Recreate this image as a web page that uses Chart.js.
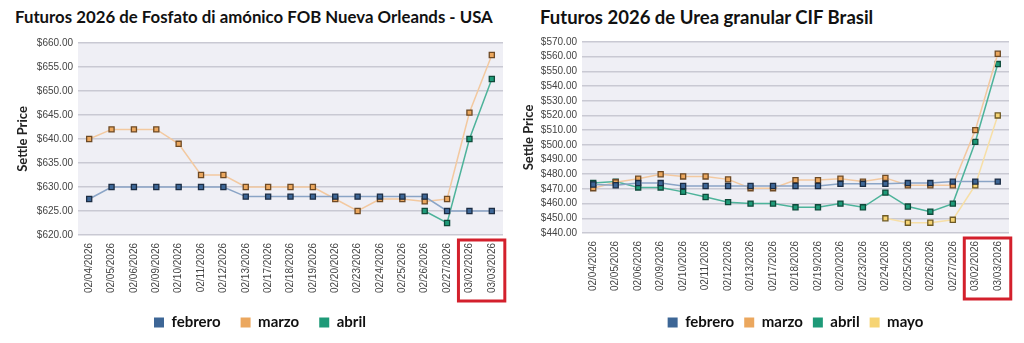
<!DOCTYPE html>
<html>
<head>
<meta charset="utf-8">
<script src="https://cdn.jsdelivr.net/npm/chart.js@4.4.1/dist/chart.umd.min.js"></script>
<style>
  body { margin: 0; background: #fff; width: 1024px; height: 343px; overflow: hidden; position: relative; }
  .title { position: absolute; font-family: Lato, sans-serif; font-weight: bold; color: #111; white-space: nowrap; }
  canvas { position: absolute; top: 0; }
</style>
</head>
<body>
<div class="title" style="left:15px; top:6px; font-size:16.8px">Futuros 2026 de Fosfato di amónico FOB Nueva Orleands - USA</div>
<div class="title" style="left:540px; top:6px; font-size:18.5px">Futuros 2026 de Urea granular CIF Brasil</div>
<canvas id="dap-chart" width="512" height="343" style="left:0"></canvas>
<canvas id="urea-chart" width="512" height="343" style="left:512px"></canvas>
<script>
// trading dates (same for both charts)
var dates = ["02/04/2026", "02/05/2026", "02/06/2026", "02/09/2026", "02/10/2026", "02/11/2026", "02/12/2026",
    "02/13/2026", "02/17/2026", "02/18/2026", "02/19/2026", "02/20/2026", "02/23/2026", "02/24/2026",
    "02/25/2026", "02/26/2026", "02/27/2026", "03/02/2026", "03/03/2026"];

// DAP FOB Nueva Orleans
var dapFebrero = [627.5, 630, 630, 630, 630, 630, 630, 628, 628, 628, 628, 628, 628, 628, 628, 628, 625, 625, 625];
var dapMarzo = [640, 642, 642, 642, 639, 632.5, 632.5, 630, 630, 630, 630, 627.5, 625, 627.5, 627.5, 627, 627.5, 645.5, 657.5];
var dapAbril = [null, null, null, null, null, null, null, null, null, null, null, null, null, null, null, 625, 622.5, 640, 652.5];

// Urea CIF Brasil
var ureaFebrero = [473, 472.5, 474, 474, 472, 472, 472, 472, 472, 472, 472, 473.5, 473.5, 473.5, 474, 474, 475, 475, 475];
var ureaMarzo = [470.5, 474.5, 477, 480, 478.5, 478.5, 476.5, 470.5, 470.5, 476, 476, 477, 475, 477.5, 472.5, 472.5, 472.5, 510, 562];
var ureaAbril = [474, 475, 471, 471, 468, 464.5, 461, 460, 460, 457.5, 457.5, 460, 457.5, 467.5, 458, 454.5, 460, 502, 555];
var ureaMayo = [null, null, null, null, null, null, null, null, null, null, null, null, null, 450, 447, 447, 449, 472.5, 520];

// highlighted categories (red box)
var highlight = ["03/02/2026", "03/03/2026"];

var colors = {
    febrero: { fill: "#3d6696", border: "#1c2d44", line: "#8aa4c6" },
    marzo: { fill: "#eba75e", border: "#6e4a25", line: "#f3c9a0" },
    abril: { fill: "#1e9a78", border: "#0f4a3a", line: "#4db39a" },
    mayo: { fill: "#f6d474", border: "#6e5a25", line: "#f7dfa6" }
};

function series(label, data, c) {
    return {
        label: label,
        data: data,
        borderColor: c.line,
        backgroundColor: c.fill,
        borderWidth: 1.5,
        pointStyle: "rect",
        pointRadius: 3.6,
        pointHoverRadius: 3.6,
        pointBackgroundColor: c.fill,
        pointBorderColor: c.border,
        pointBorderWidth: 1.3,
        tension: 0,
        spanGaps: false
    };
}

var plotBg = {
    id: "plotBg",
    beforeDraw: function (chart) {
        var a = chart.chartArea, ctx = chart.ctx;
        ctx.save();
        ctx.fillStyle = "#efeff5";
        ctx.fillRect(a.left, a.top, a.right - a.left, a.bottom - a.top);
        ctx.restore();
    }
};

var redBox = {
    id: "redBox",
    afterDraw: function (chart) {
        var x = chart.scales.x, ctx = chart.ctx;
        var i0 = dates.indexOf(highlight[0]), i1 = dates.indexOf(highlight[1]);
        var x0 = x.getPixelForValue(i0) - 11, x1 = x.getPixelForValue(i1) + 13;
        ctx.save();
        ctx.strokeStyle = "#d3202c";
        ctx.lineWidth = 3;
        ctx.strokeRect(x0, x.top + 5, x1 - x0, 61);
        ctx.restore();
    }
};

function makeChart(id, datasets, yMin, yMax, step, pad, yWidth, xHeight, legendPad, legendFull) {
    return new Chart(document.getElementById(id), {
        type: "line",
        data: { labels: dates, datasets: datasets },
        plugins: [plotBg, redBox],
        options: {
            responsive: false,
            animation: false,
            layout: { padding: pad },
            plugins: {
                legend: {
                    display: true,
                    position: "bottom",
                    fullSize: legendFull,
                    labels: {
                        boxWidth: 10,
                        boxHeight: 10,
                        padding: legendPad,
                        color: "#111",
                        font: { family: "Lato", weight: "bold", size: 15 },
                        generateLabels: function (chart) {
                            return Chart.defaults.plugins.legend.labels.generateLabels(chart).map(function (l) {
                                var ds = chart.data.datasets[l.datasetIndex];
                                l.fillStyle = ds.backgroundColor;
                                l.strokeStyle = ds.backgroundColor;
                                l.lineWidth = 0;
                                return l;
                            });
                        }
                    }
                },
                tooltip: { enabled: false }
            },
            scales: {
                x: {
                    offset: true,
                    grid: { display: false, drawTicks: false },
                    border: { display: false },
                    ticks: {
                        minRotation: 90,
                        maxRotation: 90,
                        autoSkip: false,
                        padding: 8,
                        color: "#444",
                        font: { family: "Liberation Sans", size: 10 }
                    },
                    afterFit: function (s) { s.height = xHeight; }
                },
                y: {
                    min: yMin,
                    max: yMax,
                    border: { display: false },
                    grid: { color: "#c9c9d3", lineWidth: 1.5, drawTicks: false },
                    title: {
                        display: true,
                        text: "Settle Price",
                        color: "#222",
                        padding: 0,
                        font: { family: "Lato", weight: "bold", size: 13 }
                    },
                    ticks: {
                        stepSize: step,
                        autoSkip: false,
                        padding: 5,
                        color: "#444",
                        font: { family: "Liberation Sans", size: 10 },
                        callback: function (v) { return "$" + v.toFixed(2); }
                    },
                    afterFit: function (s) { s.width = yWidth; }
                }
            }
        }
    });
}

makeChart("dap-chart", [
    series("febrero", dapFebrero, colors.febrero),
    series("marzo", dapMarzo, colors.marzo),
    series("abril", dapAbril, colors.abril)
], 620, 660, 5, { top: 43, left: 15, right: 7, bottom: 3 }, 63, 60, 20, true);

makeChart("urea-chart", [
    series("febrero", ureaFebrero, colors.febrero),
    series("marzo", ureaMarzo, colors.marzo),
    series("abril", ureaAbril, colors.abril),
    series("mayo", ureaMayo, colors.mayo)
], 440, 570, 10, { top: 42, left: 9, right: 15, bottom: 3 }, 61, 72, 10, false);
</script>
</body>
</html>
